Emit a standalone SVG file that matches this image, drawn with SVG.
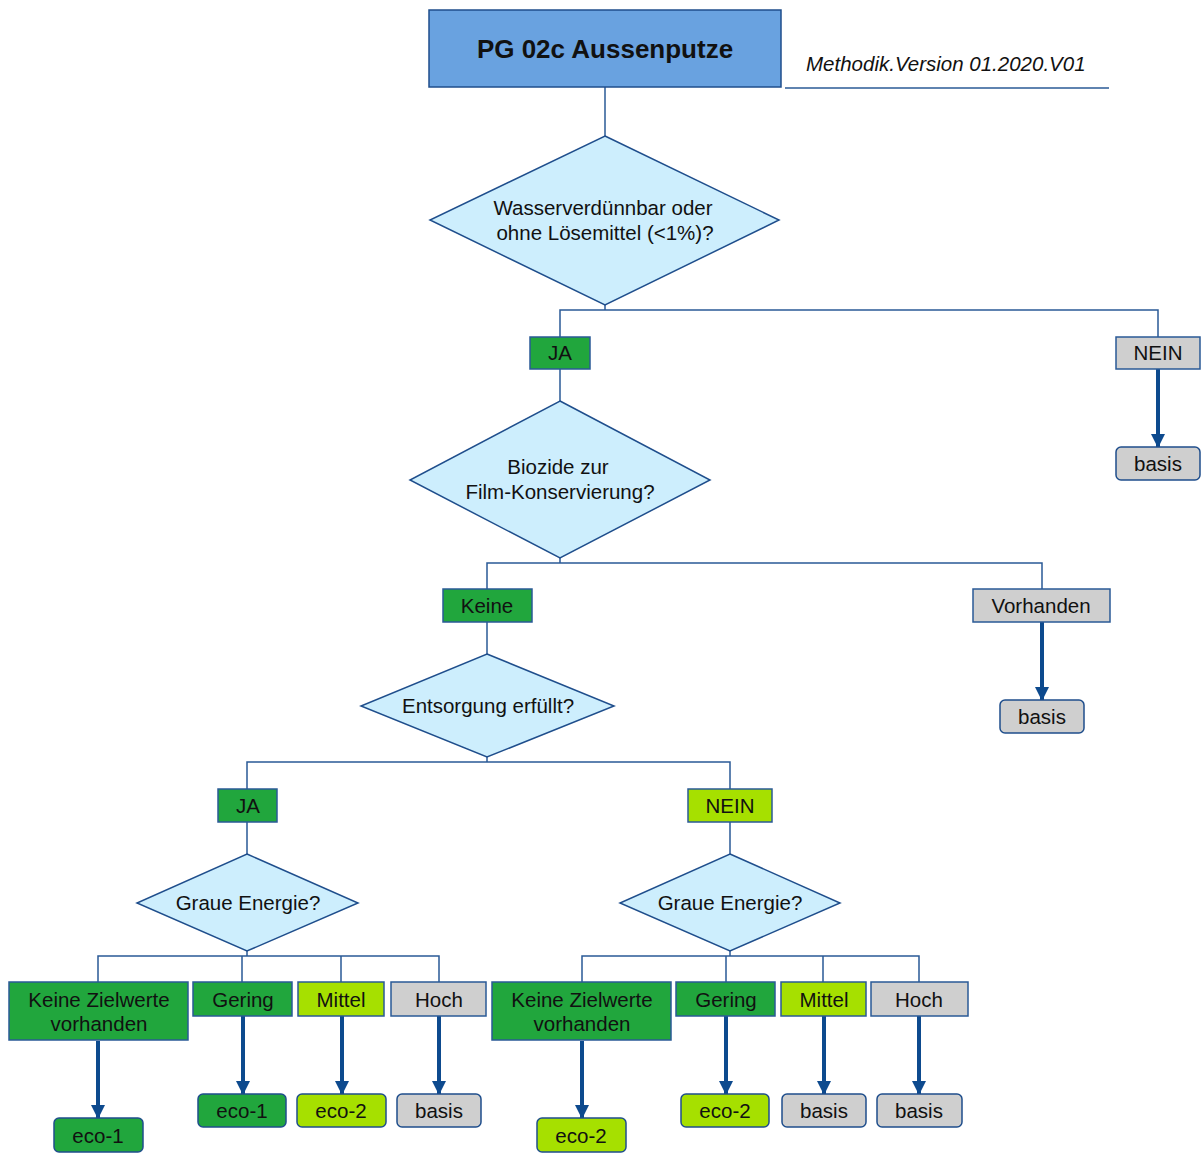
<svg xmlns="http://www.w3.org/2000/svg" width="1203" height="1153" viewBox="0 0 1203 1153">
<style>
text{font-family:"Liberation Sans",Arial,sans-serif;font-size:20.5px;fill:#111;text-anchor:middle}
.dia{fill:#CDEEFD;stroke:#1F4E8C;stroke-width:1.5}
.box{stroke:#2A5A96;stroke-width:1.5}
.g{fill:#21A63D}
.l{fill:#A6E000}
.gr{fill:#CFCFCF}
.res{stroke:#1F4E8C;stroke-width:1.5}
.thin{fill:none;stroke:#2A5A96;stroke-width:1.5}
.thick{fill:none;stroke:#0D4A8E;stroke-width:4;marker-end:url(#ah)}
</style>
<defs>
<marker id="ah" markerUnits="userSpaceOnUse" markerWidth="14" markerHeight="14" refX="13" refY="7" orient="auto" viewBox="0 0 14 14">
<path d="M0,0 L14,7 L0,14 z" fill="#0D4A8E"/>
</marker>
</defs>
<rect width="1203" height="1153" fill="#fff"/>
<g id="connectors">
<path class="thin" d="M605,87 V136"/>
<path class="thin" d="M605,305 V310 M560,337 V310 H1158 V337"/>
<path class="thin" d="M560,369 V401"/>
<path class="thin" d="M560,558 V563 M487,589 V563 H1042 V589"/>
<path class="thin" d="M487,622 V654"/>
<path class="thin" d="M487,757 V762 M247,789 V762 H730 V789"/>
<path class="thin" d="M247,822 V854 M730,822 V854"/>
<path class="thin" d="M247,951 V956 M98,982 V956 H439 V982 M242,956 V982 M341,956 V982"/>
<path class="thin" d="M730,951 V956 M582,982 V956 H919 V982 M726,956 V982 M823,956 V982"/>
<path class="thin" d="M785,88 H1109"/>
<path class="thick" d="M1158,369 V447"/>
<path class="thick" d="M1042,622 V700"/>
<path class="thick" d="M98,1041 V1118"/>
<path class="thick" d="M243,1016 V1094"/>
<path class="thick" d="M342,1016 V1094"/>
<path class="thick" d="M439,1016 V1094"/>
<path class="thick" d="M582,1041 V1118"/>
<path class="thick" d="M726,1016 V1094"/>
<path class="thick" d="M824,1016 V1094"/>
<path class="thick" d="M919,1016 V1094"/>
</g>
<g id="title">
<rect x="429" y="10" width="352" height="77" fill="#69A2E0" stroke="#1F4E8C" stroke-width="1.5"/>
<text x="605" y="58" style="font-size:26px;font-weight:bold">PG 02c Aussenputze</text>
</g>
<g id="version">
<text x="806" y="71" style="font-size:20.5px;font-style:italic;text-anchor:start">Methodik.Version 01.2020.V01</text>
</g>
<g id="q1">
<polygon class="dia" points="605,136 779,220 605,305 430,220"/>
<text x="603" y="215">Wasserverdünnbar oder</text>
<text x="605" y="240">ohne Lösemittel (&lt;1%)?</text>
</g>
<g id="q1-ja"><rect class="box g" x="530" y="337" width="60" height="32"/><text x="560" y="360">JA</text></g>
<g id="q1-nein"><rect class="box gr" x="1116" y="337" width="84" height="32"/><text x="1158" y="360">NEIN</text></g>
<g id="r1"><rect class="res gr" x="1116" y="447" width="84" height="33" rx="5"/><text x="1158" y="471">basis</text></g>
<g id="q2">
<polygon class="dia" points="560,401 710,480 560,558 410,480"/>
<text x="558" y="474">Biozide zur</text>
<text x="560" y="499">Film-Konservierung?</text>
</g>
<g id="q2-keine"><rect class="box g" x="443" y="589" width="89" height="33"/><text x="487" y="613">Keine</text></g>
<g id="q2-vorh"><rect class="box gr" x="973" y="589" width="137" height="33"/><text x="1041" y="613">Vorhanden</text></g>
<g id="r2"><rect class="res gr" x="1000" y="700" width="84" height="33" rx="5"/><text x="1042" y="724">basis</text></g>
<g id="q3">
<polygon class="dia" points="487,654 614,706 487,757 361,706"/>
<text x="488" y="713">Entsorgung erfüllt?</text>
</g>
<g id="q3-ja"><rect class="box g" x="218" y="789" width="59" height="33"/><text x="248" y="813">JA</text></g>
<g id="q3-nein"><rect class="box l" x="688" y="789" width="84" height="33"/><text x="730" y="813">NEIN</text></g>
<g id="q4">
<polygon class="dia" points="247,854 358,903 247,951 137,903"/>
<text x="248" y="910">Graue Energie?</text>
</g>
<g id="q5">
<polygon class="dia" points="730,854 840,903 730,951 620,903"/>
<text x="730" y="910">Graue Energie?</text>
</g>
<g id="a-keine"><rect class="box g" x="9" y="982" width="179" height="58"/><text x="99" y="1007">Keine Zielwerte</text><text x="99" y="1031">vorhanden</text></g>
<g id="a-gering"><rect class="box g" x="193" y="982" width="99" height="34"/><text x="243" y="1007">Gering</text></g>
<g id="a-mittel"><rect class="box l" x="298" y="982" width="86" height="34"/><text x="341" y="1007">Mittel</text></g>
<g id="a-hoch"><rect class="box gr" x="391" y="982" width="95" height="34"/><text x="439" y="1007">Hoch</text></g>
<g id="a-r1"><rect class="res g" x="54" y="1118" width="89" height="34" rx="5"/><text x="98" y="1143">eco-1</text></g>
<g id="a-r2"><rect class="res g" x="198" y="1094" width="88" height="33" rx="5"/><text x="242" y="1118">eco-1</text></g>
<g id="a-r3"><rect class="res l" x="297" y="1094" width="89" height="33" rx="5"/><text x="341" y="1118">eco-2</text></g>
<g id="a-r4"><rect class="res gr" x="397" y="1094" width="84" height="33" rx="5"/><text x="439" y="1118">basis</text></g>
<g id="b-keine"><rect class="box g" x="492" y="982" width="179" height="58"/><text x="582" y="1007">Keine Zielwerte</text><text x="582" y="1031">vorhanden</text></g>
<g id="b-gering"><rect class="box g" x="676" y="982" width="99" height="34"/><text x="726" y="1007">Gering</text></g>
<g id="b-mittel"><rect class="box l" x="781" y="982" width="85" height="34"/><text x="824" y="1007">Mittel</text></g>
<g id="b-hoch"><rect class="box gr" x="871" y="982" width="97" height="34"/><text x="919" y="1007">Hoch</text></g>
<g id="b-r1"><rect class="res l" x="537" y="1118" width="89" height="34" rx="5"/><text x="581" y="1143">eco-2</text></g>
<g id="b-r2"><rect class="res l" x="681" y="1094" width="88" height="33" rx="5"/><text x="725" y="1118">eco-2</text></g>
<g id="b-r3"><rect class="res gr" x="782" y="1094" width="84" height="33" rx="5"/><text x="824" y="1118">basis</text></g>
<g id="b-r4"><rect class="res gr" x="877" y="1094" width="85" height="33" rx="5"/><text x="919" y="1118">basis</text></g>
</svg>
